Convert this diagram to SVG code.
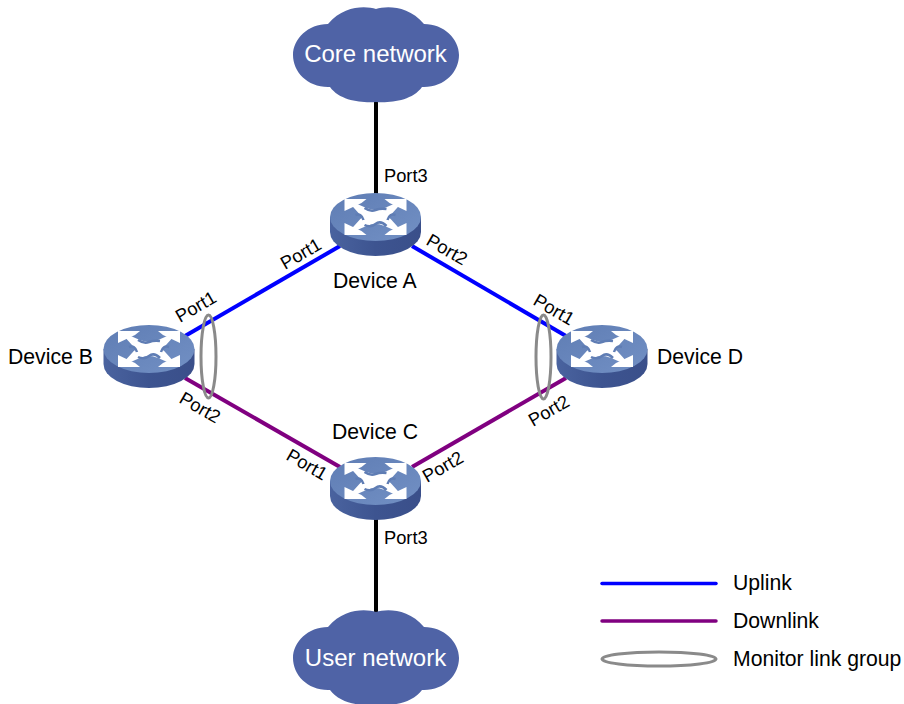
<svg xmlns="http://www.w3.org/2000/svg" width="904" height="704" viewBox="0 0 904 704">
<style>
text{font-family:"Liberation Sans",Arial,sans-serif;font-size:18.300px;fill:#000}
.big{font-size:24px;fill:#fff;text-anchor:middle}
.lbl{font-size:21.200px}
.cloud{fill:#4f63a6}
.k{stroke:#000;stroke-width:4;fill:none}
.u{stroke:#0000ff;stroke-width:4;fill:none}
.d{stroke:#800080;stroke-width:4;fill:none}
.ring{fill:none;stroke:#8a8a8a;stroke-width:3}
</style>
<defs>
<linearGradient id="top" x1="0" y1="0" x2="1" y2="1"><stop offset="0" stop-color="#5f7db4"/><stop offset="1" stop-color="#7290c4"/></linearGradient>
<linearGradient id="side" x1="0" y1="0" x2="1" y2="0"><stop offset="0" stop-color="#4a639f"/><stop offset=".5" stop-color="#3d5490"/><stop offset="1" stop-color="#3a4f8a"/></linearGradient>
<g id="router">
<path d="M-45.500 0V15A45.500 24 0 0 0 45.500 15V0Z" fill="url(#side)"/>
<ellipse cx="0" cy="0" rx="45.500" ry="24" fill="url(#top)"/>
<g fill="#fff">
<path d="M-31-18H-9L-14-14-31-6Z"/>
<path d="M31-18H9L14-14 31-6Z"/>
<path d="M-31 18H-9L-14 14-31 6Z"/>
<path d="M31 18H9L14 14 31 6Z"/>
<path d="M-24-14-8-7Q0-4 8-7L24-14 14-3Q9 0 14 3L24 14 8 7Q0 4-8 7L-24 14-14 3Q-9 0-14-3Z" stroke="#fff" stroke-width="3"/>
</g>
<path d="M-11-9Q-5-5 0-7T11-8M-11 8Q-5 11 0 7T11 9M-20-2Q-14-4-12 3M20-2Q14-4 12 3" fill="none" stroke="#5f7db4" stroke-width="2.500"/>
</g>
<path id="cl" d="M0-46C-10-49-32-50-48-31-68-31-83-16-83 0-83 17-68 33-46 32-36 46-14 48 0 47 14 48 36 46 46 32 68 33 83 17 83 0 83-16 68-31 48-31 32-50 10-49 0-46Z"/>
</defs>
<g id="connectors">
<path class="k" d="M376 100V196"/>
<path class="k" d="M376 515V614"/>
<path class="u" d="M185 336 L340 246"/>
<path class="u" d="M412 246 L566 336"/>
<path class="d" d="M185 378 L340 467"/>
<path class="d" d="M412 467 L566 378"/>
</g>
<g id="core-network"><use href="#cl" x="376" y="55" class="cloud"/><text class="big" x="375.500" y="62">Core network</text></g>
<g id="user-network"><use href="#cl" x="376" y="658" class="cloud"/><text class="big" x="375.500" y="666">User network</text></g>
<g id="device-a"><use href="#router" x="375.500" y="217"/><text class="lbl" x="333" y="288">Device A</text></g>
<g id="device-b"><use href="#router" x="149" y="349"/><text class="lbl" x="8" y="364">Device B</text></g>
<g id="device-c"><use href="#router" x="375.500" y="481"/><text class="lbl" x="332" y="439">Device C</text></g>
<g id="device-d"><use href="#router" x="602" y="349"/><text class="lbl" x="657" y="364">Device D</text></g>
<g id="monitor-groups">
<ellipse class="ring" cx="208.500" cy="356.500" rx="7.500" ry="41.500"/>
<ellipse class="ring" cx="543.500" cy="357" rx="7.500" ry="42"/>
</g>
<g id="port-labels">
<text x="384" y="182">Port3</text>
<text x="384" y="544">Port3</text>
<text transform="translate(285 270) rotate(-30)">Port1</text>
<text transform="translate(425 244) rotate(30)">Port2</text>
<text transform="translate(180 323) rotate(-30)">Port1</text>
<text transform="translate(178 402) rotate(30)">Port2</text>
<text transform="translate(532 304) rotate(30)">Port1</text>
<text transform="translate(533 427) rotate(-30)">Port2</text>
<text transform="translate(285 459) rotate(30)">Port1</text>
<text transform="translate(427 483) rotate(-30)">Port2</text>
</g>
<g id="legend">
<path class="u" d="M602 583.500H716" stroke-linecap="round" style="stroke-width:3.500"/>
<path class="d" d="M602 621H716" stroke-linecap="round" style="stroke-width:3.500"/>
<ellipse class="ring" cx="659" cy="659" rx="57" ry="7"/>
<text class="lbl" x="733" y="590">Uplink</text>
<text class="lbl" x="733" y="628">Downlink</text>
<text class="lbl" x="733" y="666">Monitor link group</text>
</g>
</svg>
